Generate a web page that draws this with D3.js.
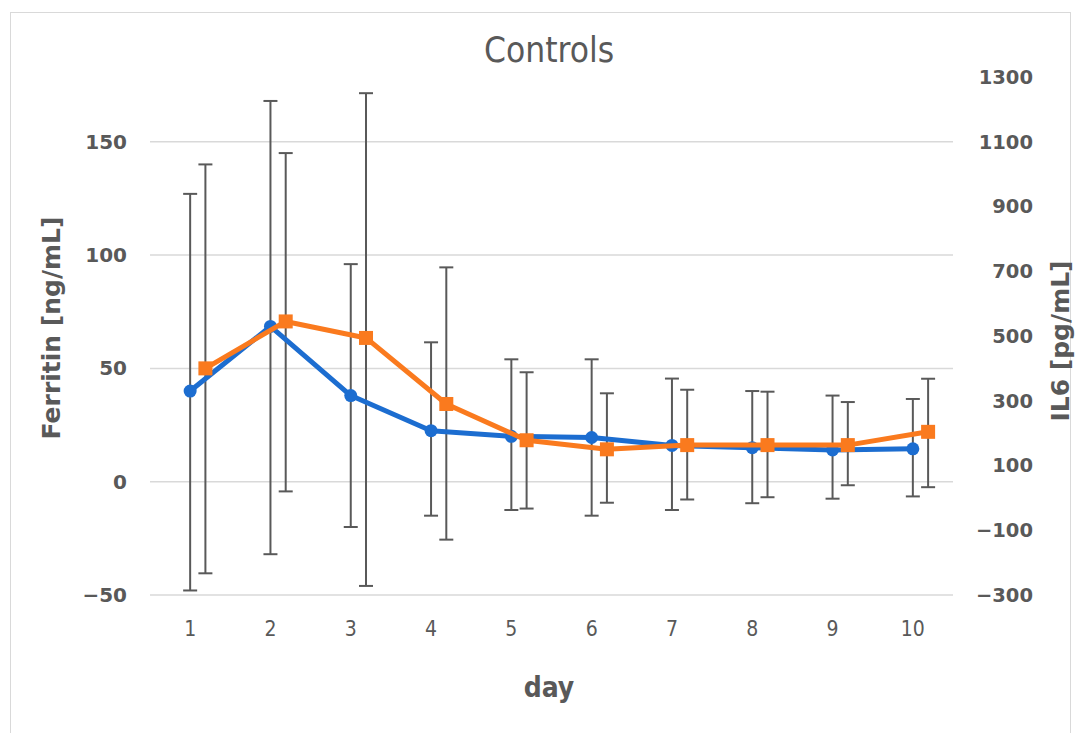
<!DOCTYPE html>
<html>
<head>
<meta charset="utf-8">
<script src="https://cdn.jsdelivr.net/npm/d3@7"></script>
<style>
  body { margin: 0; background: #fff; }
</style>
</head>
<body>
<div id="chart"></div>
<script>
// data
const days = ["1", "2", "3", "4", "5", "6", "7", "8", "9", "10"];

const ferritin = [40, 68.5, 38, 22.5, 20, 19.5, 16, 15, 14, 14.5];
const ferritinHigh = [127, 168, 96, 61.5, 54, 54, 45.5, 40, 38, 36.5];
const ferritinLow = [-48, -32, -20, -15, -12.5, -15, -12.5, -9.5, -7.5, -6.5];

const il6 = [400, 545, 494, 290, 178, 150, 163, 163, 163, 204];
const il6High = [1030, 1065, 1250, 712, 388, 323, 334, 328, 296, 368];
const il6Low = [-233, 20, -272, -129, -33, -15, -5, 2, 39, 33];

const leftTicks = [-50, 0, 50, 100, 150];
const rightTicks = [-300, -100, 100, 300, 500, 700, 900, 1100, 1300];

const width = 1080;
const height = 733;

//plot area
const marginTop = 77;
const marginRight = 127;
const marginBottom = 138;
const marginLeft = 150;

const blue = "#1c6dd0";
const orange = "#fa7a1e";
const textGray = "#595959";

const svg = d3.select("#chart").append("svg")
    .attr("width", width)
    .attr("height", height)
    .attr("viewBox", [0, 0, width, height]);

// light frame round the chart
svg.append("rect")
    .attr("x", 10.5)
    .attr("y", 12.5)
    .attr("width", 1060)
    .attr("height", 730)
    .attr("fill", "none")
    .attr("stroke", "#d9d9d9");

const x = d3.scaleBand()
    .domain(days)
    .range([marginLeft, width - marginRight]);

// left axis, scaled so that -50 and 150 line up with -300 and 1100 on the right
const yLeft = d3.scaleLinear()
    .domain([-50, 1250 / 7])
    .range([height - marginBottom, marginTop]);

const yRight = d3.scaleLinear()
    .domain([-300, 1300])
    .range([height - marginBottom, marginTop]);

const shift = x.bandwidth() * 0.19; //orange series sits a little to the right

// gridlines
svg.append("g")
    .selectAll("line")
    .data(leftTicks)
    .join("line")
    .attr("x1", marginLeft)
    .attr("x2", width - marginRight)
    .attr("y1", d => yLeft(d))
    .attr("y2", d => yLeft(d))
    .attr("stroke", "#d9d9d9")
    .attr("stroke-width", 1.5);

// left axis
const leftAxis = svg.append("g")
    .attr("transform", `translate(${marginLeft - 23},0)`)
    .call(d3.axisLeft(yLeft).tickValues(leftTicks).tickFormat(d3.format("d")).tickSize(0).tickPadding(0));
leftAxis.select(".domain").remove();
leftAxis.selectAll("text")
    .attr("font-family", "DejaVu Sans")
    .attr("font-weight", "bold")
    .attr("font-size", "20px")
    .attr("fill", textGray);

// right axis
const rightAxis = svg.append("g")
    .attr("transform", `translate(${width - 47},0)`)
    .call(d3.axisLeft(yRight).tickValues(rightTicks).tickFormat(d3.format("d")).tickSize(0).tickPadding(0));
rightAxis.select(".domain").remove();
rightAxis.selectAll("text")
    .attr("font-family", "DejaVu Sans")
    .attr("font-weight", "bold")
    .attr("font-size", "19.5px")
    .attr("fill", textGray);

// x axis
const xAxis = svg.append("g")
    .attr("transform", `translate(0,${height - marginBottom + 26})`)
    .call(d3.axisBottom(x).tickSize(0).tickPadding(0));
xAxis.select(".domain").remove();
xAxis.selectAll("text")
    .attr("font-family", "Liberation Sans Narrow, DejaVu Sans Condensed, sans-serif")
    .attr("font-size", "21px")
    .attr("fill", textGray);

// error bars
function errorBars(lo, hi, yScale, dx, cls) {
    const g = svg.append("g")
        .attr("class", cls)
        .attr("stroke", "#595959")
        .attr("stroke-width", 2);
    const data = days.map((d, i) => ({ day: d, lo: lo[i], hi: hi[i] }));
    g.selectAll(".stem")
        .data(data)
        .join("line")
        .attr("x1", d => x(d.day) + x.bandwidth() / 2 + dx)
        .attr("x2", d => x(d.day) + x.bandwidth() / 2 + dx)
        .attr("y1", d => yScale(d.lo))
        .attr("y2", d => yScale(d.hi));
    for (const key of ["lo", "hi"]) {
        g.selectAll(".cap-" + key)
            .data(data)
            .join("line")
            .attr("x1", d => x(d.day) + x.bandwidth() / 2 + dx - 7)
            .attr("x2", d => x(d.day) + x.bandwidth() / 2 + dx + 7)
            .attr("y1", d => yScale(d[key]))
            .attr("y2", d => yScale(d[key]));
    }
}

errorBars(ferritinLow, ferritinHigh, yLeft, 0, "err-ferritin");
errorBars(il6Low, il6High, yRight, shift, "err-il6");

// ferritin line and circles
const ferritinData = days.map((d, i) => ({ day: d, value: ferritin[i] }));
svg.append("path")
    .datum(ferritinData)
    .attr("fill", "none")
    .attr("stroke", blue)
    .attr("stroke-width", 5)
    .attr("stroke-linejoin", "round")
    .attr("d", d3.line()
        .x(d => x(d.day) + x.bandwidth() / 2)
        .y(d => yLeft(d.value)));
svg.append("g")
    .selectAll("circle")
    .data(ferritinData)
    .join("circle")
    .attr("cx", d => x(d.day) + x.bandwidth() / 2)
    .attr("cy", d => yLeft(d.value))
    .attr("r", 6.5)
    .attr("fill", blue);

// il6 line and squares
const il6Data = days.map((d, i) => ({ day: d, value: il6[i] }));
svg.append("path")
    .datum(il6Data)
    .attr("fill", "none")
    .attr("stroke", orange)
    .attr("stroke-width", 5)
    .attr("stroke-linejoin", "round")
    .attr("d", d3.line()
        .x(d => x(d.day) + x.bandwidth() / 2 + shift)
        .y(d => yRight(d.value)));
svg.append("g")
    .selectAll("rect")
    .data(il6Data)
    .join("rect")
    .attr("x", d => x(d.day) + x.bandwidth() / 2 + shift - 7)
    .attr("y", d => yRight(d.value) - 7)
    .attr("width", 14)
    .attr("height", 14)
    .attr("fill", orange);

// titles
svg.append("text")
    .text("Controls")
    .attr("x", 549)
    .attr("y", 62)
    .attr("text-anchor", "middle")
    .attr("font-family", "Liberation Sans Narrow, DejaVu Sans Condensed, sans-serif")
    .attr("font-size", "35px")
    .attr("fill", textGray);

svg.append("text")
    .text("Ferritin [ng/mL]")
    .attr("transform", `translate(60,328) rotate(-90)`)
    .attr("text-anchor", "middle")
    .attr("font-family", "DejaVu Sans")
    .attr("font-weight", "bold")
    .attr("font-size", "25px")
    .attr("fill", textGray);

svg.append("text")
    .text("IL6 [pg/mL]")
    .attr("transform", `translate(1069,341) rotate(-90)`)
    .attr("text-anchor", "middle")
    .attr("font-family", "DejaVu Sans")
    .attr("font-weight", "bold")
    .attr("font-size", "25px")
    .attr("fill", textGray);

svg.append("text")
    .text("day")
    .attr("x", 549)
    .attr("y", 697)
    .attr("text-anchor", "middle")
    .attr("font-family", "Liberation Sans Narrow, DejaVu Sans Condensed, sans-serif")
    .attr("font-weight", "bold")
    .attr("font-size", "28px")
    .attr("fill", textGray);
</script>
</body>
</html>
